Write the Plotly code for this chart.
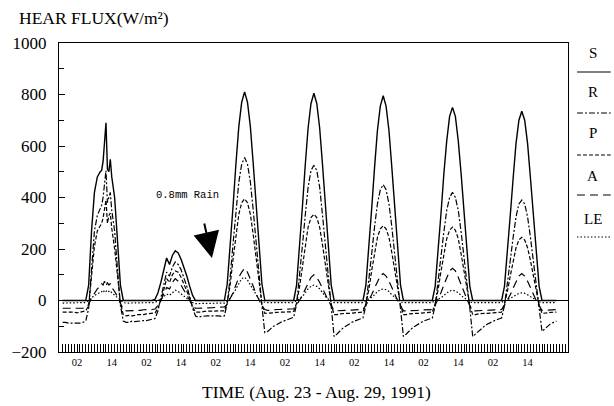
import plotly.graph_objects as go

# ---------------- data ----------------
# time in hours since Aug. 23, 1991 00:00
PRE_HOURS = [-3, -2, -1]
DAY1_OFFSETS = [0, 1, 2, 3, 4, 5, 6, 7, 8, 9, 10, 10.5, 11, 11.5, 12, 12.5, 13, 13.5,
                14, 15, 16, 17, 18, 19, 20, 21, 22, 23]
DAY_OFFSETS = list(range(24))
POST_HOURS = [168]

# S (solid)
S = [0, 0, 0,
     0, 0, 0, 0, 0, 0, 60, 270, 420, 480, 500, 505, 540, 620, 690, 510, 500, 548, 480, 400, 220, 60, 0, 0, 0, 0, 0, 0,
     0, 0, 0, 0, 0, 5, 30, 70, 120, 165, 140, 175, 193, 185, 160, 130, 95, 55, 20, 0, 0, 0, 0, 0,
     0, 0, 0, 0, 0, 0, 65, 200, 365, 530, 675, 770, 810, 770, 675, 530, 365, 200, 65, 0, 0, 0, 0, 0,
     0, 0, 0, 0, 0, 0, 60, 200, 360, 525, 670, 765, 805, 765, 670, 525, 360, 195, 60, 0, 0, 0, 0, 0,
     0, 0, 0, 0, 0, 0, 60, 195, 355, 515, 660, 755, 795, 755, 660, 515, 355, 195, 60, 0, 0, 0, 0, 0,
     0, 0, 0, 0, 0, 0, 55, 185, 335, 490, 620, 715, 750, 715, 620, 490, 335, 185, 55, 0, 0, 0, 0, 0,
     0, 0, 0, 0, 0, 0, 55, 180, 330, 475, 610, 700, 735, 700, 610, 475, 330, 180, 55, 0, 0, 0, 0, 0,
     0]

# R (dash-dot)
R = [-85, -85, -88,
     -88, -88, -90, -88, -85, -80, -30, 140, 270, 330, 360, 370, 400, 460, 505, 380, 400, 420, 350, 270, 120, -20, -80, -85, -85, -80, -82, -80,
     -80, -78, -78, -75, -75, -70, -40, 10, 60, 110, 95, 130, 150, 140, 120, 90, 55, 15, -30, -60, -65, -62, -60, -60,
     -60, -60, -58, -60, -62, -60, -10, 90, 220, 350, 460, 530, 555, 530, 460, 350, 220, 90, -20, -125, -120, -110, -100, -95,
     -88, -82, -78, -74, -70, -65, -15, 85, 210, 330, 440, 505, 525, 505, 440, 330, 210, 85, -25, -140, -130, -118, -108, -100,
     -92, -86, -80, -76, -72, -68, -20, 70, 180, 285, 375, 430, 450, 430, 375, 285, 180, 70, -30, -140, -130, -118, -108, -100,
     -92, -86, -80, -76, -72, -68, -20, 65, 170, 265, 350, 400, 420, 400, 350, 265, 170, 65, -30, -140, -130, -118, -108, -100,
     -92, -86, -80, -76, -72, -68, -20, 60, 155, 245, 325, 375, 390, 375, 325, 245, 155, 60, -30, -120, -110, -100, -90, -85,
     -80]

# P (short dash)
P = [-45, -45, -45,
     -45, -45, -48, -45, -45, -40, -20, 90, 210, 270, 290, 300, 320, 360, 390, 300, 330, 340, 280, 200, 90, -10, -55, -60, -58, -60, -58, -55,
     -55, -55, -52, -50, -50, -48, -30, 0, 40, 85, 70, 100, 115, 110, 90, 65, 40, 10, -25, -45, -45, -45, -42, -42,
     -42, -40, -40, -42, -40, -40, -10, 60, 160, 255, 335, 380, 395, 380, 335, 255, 160, 60, -15, -50, -50, -48, -48, -46,
     -46, -45, -45, -44, -44, -42, -10, 50, 135, 215, 285, 322, 335, 322, 285, 215, 135, 50, -15, -55, -55, -52, -50, -50,
     -50, -48, -48, -47, -46, -45, -12, 40, 115, 185, 245, 278, 290, 278, 245, 185, 115, 40, -18, -55, -55, -52, -50, -50,
     -50, -48, -48, -47, -46, -45, -12, 40, 112, 180, 240, 273, 285, 273, 240, 180, 112, 40, -18, -55, -55, -52, -50, -50,
     -50, -48, -48, -47, -46, -45, -12, 35, 95, 155, 205, 235, 245, 235, 205, 155, 95, 35, -18, -50, -50, -48, -46, -45,
     -45]

# A (long dash)
A = [-30, -30, -30,
     -30, -30, -32, -30, -30, -28, -15, 10, 30, 45, 55, 65, 60, 75, 55, 70, 60, 65, 50, 35, 15, -10, -35, -40, -40, -38, -40, -38,
     -38, -36, -36, -35, -35, -33, -20, 0, 25, 50, 45, 70, 85, 75, 60, 40, 20, 0, -20, -30, -30, -30, -28, -28,
     -28, -28, -27, -27, -26, -25, -15, 5, 30, 60, 90, 110, 125, 110, 85, 55, 25, 0, -20, -35, -38, -38, -36, -35,
     -35, -35, -34, -34, -33, -32, -18, 0, 20, 45, 70, 90, 100, 90, 70, 45, 20, 0, -20, -38, -40, -40, -38, -38,
     -38, -37, -37, -36, -36, -35, -18, 0, 22, 48, 75, 95, 105, 95, 75, 48, 22, 0, -20, -40, -40, -40, -38, -38,
     -38, -37, -37, -36, -36, -35, -18, 5, 30, 60, 90, 115, 125, 115, 90, 60, 30, 5, -20, -40, -40, -40, -38, -38,
     -38, -37, -37, -36, -36, -35, -18, 0, 22, 48, 75, 95, 105, 95, 75, 48, 22, 0, -20, -38, -38, -37, -36, -35,
     -35]

# LE (dotted)
LE = [-10, -10, -10,
      -10, -10, -10, -10, -10, -8, 0, 10, 20, 25, 30, 35, 30, 40, 35, 40, 35, 38, 30, 20, 10, 0, -8, -10, -10, -10, -10, -10,
      -10, -10, -10, -10, -10, -8, 0, 5, 15, 25, 20, 30, 40, 35, 25, 15, 8, 0, -8, -12, -12, -12, -12, -12,
      -12, -12, -12, -12, -12, -10, 0, 10, 25, 45, 65, 85, 90, 80, 60, 40, 20, 5, -5, -8, -8, -8, -8, -8,
      -8, -8, -8, -8, -8, -8, 0, 5, 15, 30, 45, 55, 60, 55, 45, 30, 15, 5, -5, -8, -8, -8, -8, -8,
      -8, -8, -8, -8, -8, -8, 0, 5, 12, 22, 35, 42, 45, 42, 35, 22, 12, 5, -5, -8, -8, -8, -8, -8,
      -8, -8, -8, -8, -8, -8, 0, 4, 10, 20, 30, 37, 40, 37, 30, 20, 10, 4, -5, -8, -8, -8, -8, -8,
      -8, -8, -8, -8, -8, -8, 0, 3, 8, 15, 22, 28, 30, 28, 22, 15, 8, 3, -5, -8, -8, -8, -8, -8,
      -8]

SERIES_NAMES = ["S", "R", "P", "A", "LE"]
SERIES_DASH = ["solid", "6px,2px,2px,2px", "4px,2px", "8px,5px", "1.5px,2px"]

XTICK_VALS = [2, 14, 26, 38, 50, 62, 74, 86, 98, 110, 122, 134, 146, 158]
XTICK_TEXT = ["02", "14"] * 7

Y_TITLE = "HEAR FLUX(W/m²)"
X_TITLE = "TIME (Aug. 23 - Aug. 29, 1991)"
RAIN_TEXT = "0.8mm Rain"
RAIN_TIME = 48.7
RAIN_VALUE = 165

# ---------------- build ----------------
TIME = list(PRE_HOURS) + list(DAY1_OFFSETS)
for d in range(1, 7):
    TIME += [24 * d + h for h in DAY_OFFSETS]
TIME += POST_HOURS

SERIF = "Liberation Serif"
fig = go.Figure()
for name, vals, dash in zip(SERIES_NAMES, [S, R, P, A, LE], SERIES_DASH):
    fig.add_trace(go.Scatter(x=TIME, y=vals, mode="lines", name=name,
                             line=dict(color="black", width=1.4 if name == "S" else 1.2, dash=dash),
                             showlegend=False))

fig.update_layout(
    width=614, height=406,
    margin=dict(l=56, r=46, t=43, b=54),
    paper_bgcolor="white", plot_bgcolor="white",
    font=dict(family=SERIF, color="black"),
)
fig.update_xaxes(
    range=[-4.27, 172.0], showgrid=False, zeroline=False,
    showline=True, linecolor="black", linewidth=1, mirror=True,
    tickmode="array", tickvals=XTICK_VALS, ticktext=XTICK_TEXT,
    ticks="inside", ticklen=8, tickcolor="black", tickwidth=1,
    tickfont=dict(family=SERIF, size=10.5, color="black"),
    minor=dict(tickmode="linear", tick0=0, dtick=1, ticks="inside", ticklen=8, tickcolor="black", tickwidth=1),
)
fig.update_yaxes(
    range=[-200, 1000], showgrid=False,
    zeroline=True, zerolinecolor="black", zerolinewidth=1,
    showline=True, linecolor="black", linewidth=1, mirror=True,
    tickmode="linear", tick0=0, dtick=200,
    ticks="inside", ticklen=6, tickcolor="black",
    ticklabelstandoff=8,
    tickfont=dict(family=SERIF, size=17, color="black"),
    minor=dict(tickmode="linear", tick0=0, dtick=100, ticks="inside", ticklen=5, tickcolor="black"),
)

# titles
fig.add_annotation(text=Y_TITLE, xref="paper", yref="paper", x=-42 / 512, y=1 + 25 / 309,
                   xanchor="left", yanchor="middle", showarrow=False,
                   font=dict(family=SERIF, size=17.5, color="black"))
fig.add_annotation(text=X_TITLE, xref="paper", yref="paper", x=(315 - 56) / 512, y=-(392 - 352) / 309,
                   xanchor="center", yanchor="middle", showarrow=False,
                   font=dict(family=SERIF, size=17.5, color="black"))

# rain annotation
fig.add_annotation(text=RAIN_TEXT, x=RAIN_TIME - 8.5, y=410, xref="x", yref="y",
                   showarrow=False, font=dict(family="Liberation Mono", size=10.5, color="black"))
fig.add_annotation(text="", x=RAIN_TIME, y=RAIN_VALUE, xref="x", yref="y",
                   showarrow=True, ax=-8, ay=-36, arrowhead=2, arrowsize=2.6, arrowwidth=2,
                   arrowcolor="black")

# legend at the right, text above a sample line
LEG_Y = [53, 92, 133, 176, 219]
LEG_LINE_Y = [72, 113, 155, 195, 237]
for name, dash, ty, ly in zip(SERIES_NAMES, SERIES_DASH, LEG_Y, LEG_LINE_Y):
    fig.add_annotation(text=name, xref="paper", yref="paper",
                       x=(593 - 56) / 512, y=(352 - ty) / 309,
                       xanchor="center", yanchor="middle", showarrow=False,
                       font=dict(family=SERIF, size=15, color="black"))
    fig.add_shape(type="line", xref="paper", yref="paper",
                  x0=(577 - 56) / 512, x1=(611 - 56) / 512,
                  y0=(352 - ly) / 309, y1=(352 - ly) / 309,
                  line=dict(color="black", width=1.2, dash=dash))

fig.write_html("out.html")
